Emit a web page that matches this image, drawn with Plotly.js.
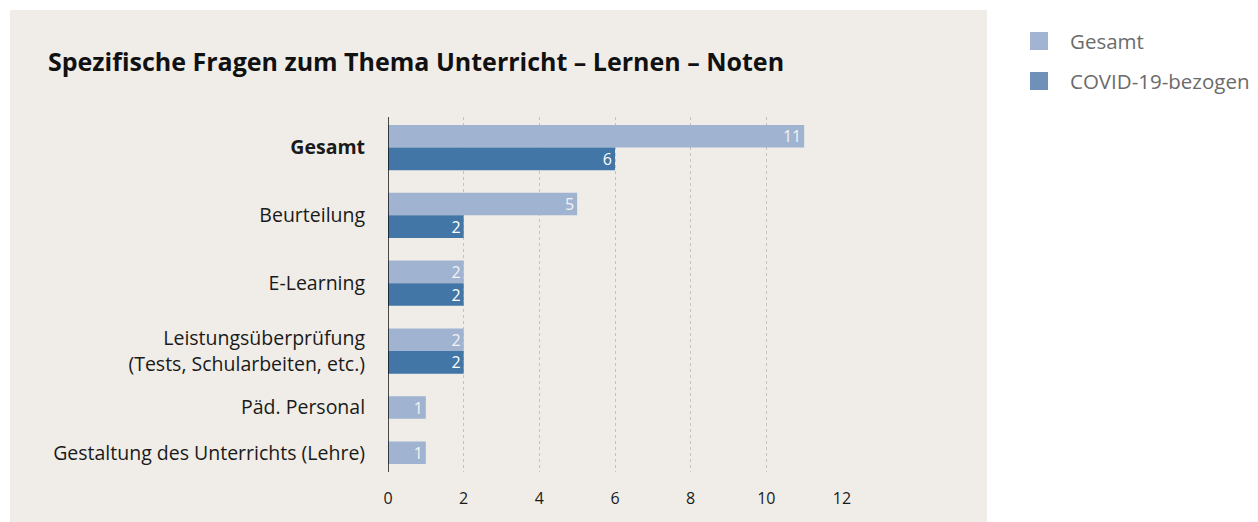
<!DOCTYPE html>
<html><head><meta charset="utf-8">
<script src="https://cdn.plot.ly/plotly-3.0.1.min.js"></script>
<style>html,body{margin:0;padding:0;background:#fff;}#chart{width:1258px;height:522px;}</style>
</head><body><div id="chart"></div>
<script>
const categories = ['Gesamt', 'Beurteilung', 'E-Learning', 'Leistungsüberprüfung<br>(Tests, Schularbeiten, etc.)', 'Päd. Personal', 'Gestaltung des Unterrichts (Lehre)'];
const seriesNames = ['Gesamt', 'COVID-19-bezogen'];
const gesamtValues = [11, 5, 2, 2, 1, 1];
const covidValues = [6, 2, 2, 2, null, null];
const xTicks = [0, 2, 4, 6, 8, 10, 12];

const FONT = '"Open Sans", sans-serif';
const barColors = ['#a0b3d1', '#4276a6'];
const legendColors = ['#a2b4d2', '#6f91b8'];
const series = [gesamtValues, covidValues];

// compute slot positions: each category takes one slot per present bar, then a gap slot
const pos = [[], []];
const tickvals = [];
let slot = 0;
categories.forEach((c, i) => {
  const start = slot;
  series.forEach((s, k) => {
    if (s[i] != null && s[i] > 0) { pos[k].push(slot + 0.5); slot += 1; }
    else pos[k].push(null);
  });
  tickvals.push((start + slot) / 2);
  slot += 1;
});
const lastSlot = slot - 1;

const traces = series.map((s, k) => ({
  type: 'bar', orientation: 'h',
  x: s.map(v => v == null ? null : v), y: pos[k], width: 1,
  name: seriesNames[k], marker: {color: barColors[k]},
  text: s.map(v => v == null ? '' : String(v)),
  textposition: 'inside', insidetextanchor: 'end', textangle: 0, constraintext: 'none',
  textfont: {family: FONT, size: 16, color: k === 0 ? '#f4f4f4' : '#ffffff'},
  cliponaxis: false, hoverinfo: 'skip', showlegend: false
}));

const ticktext = categories.map((c, i) => i === 0 ? '<b>' + c + '</b>' : c);

const L = 388, R = 842, T = 117, B = 472, W = 1258, H = 522;
const pw = R - L, ph = B - T;
const px = x => (x - L) / pw;
const py = y => (B - y) / ph;

const shapes = [
  {type: 'rect', xref: 'paper', yref: 'paper', x0: px(10), x1: px(987), y0: py(522), y1: py(10), fillcolor: '#f0ede8', line: {width: 0}, layer: 'below'},
  {type: 'line', xref: 'x', yref: 'paper', x0: 0, x1: 0, y0: 0, y1: 1, line: {color: '#111', width: 1.5}, layer: 'above'}
];
const annotations = [];
seriesNames.forEach((n, k) => {
  const cy = 41 + k * 40;
  shapes.push({type: 'rect', xref: 'paper', yref: 'paper', x0: px(1030), x1: px(1048), y0: py(cy + 9), y1: py(cy - 9), fillcolor: legendColors[k], line: {width: 0}});
  annotations.push({xref: 'paper', yref: 'paper', x: px(1068), y: py(cy), xanchor: 'left', yanchor: 'middle', text: n, showarrow: false, font: {family: FONT, size: 20.5, color: '#6b6b6b'}});
});

const layout = {
  width: W, height: H,
  margin: {l: L, r: W - R, t: T, b: H - B, pad: 0},
  paper_bgcolor: '#ffffff', plot_bgcolor: 'rgba(0,0,0,0)',
  barmode: 'overlay', showlegend: false,
  font: {family: FONT, color: '#1a1a1a'},
  title: {text: '<b>Spezifische Fragen zum Thema Unterricht – Lernen – Noten</b>', x: 48 / W, xref: 'container', xanchor: 'left', y: 1 - 62 / H, yref: 'container', yanchor: 'middle', font: {family: FONT, size: 25, color: '#111'}},
  xaxis: {range: [0, 12], tickvals: xTicks, ticktext: xTicks.map(String), showgrid: true, griddash: 'dot', gridcolor: '#c2c2c2', gridwidth: 1, zeroline: false, showline: false, ticks: 'outside', ticklen: 12, tickcolor: 'rgba(0,0,0,0)', tickfont: {size: 16, color: '#1a1a1a'}, fixedrange: true},
  yaxis: {range: [lastSlot + 0.35, -0.35], tickvals: tickvals, ticktext: ticktext, showgrid: false, zeroline: false, showline: false, ticks: 'outside', ticklen: 18, tickcolor: 'rgba(0,0,0,0)', tickfont: {size: 19.5, color: '#1a1a1a'}, fixedrange: true},
  shapes: shapes, annotations: annotations
};
Plotly.newPlot('chart', traces, layout, {displayModeBar: false, staticPlot: true});
</script></body></html>
